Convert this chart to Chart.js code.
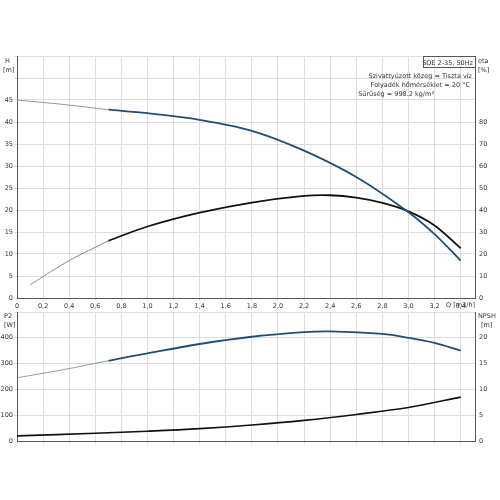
<!DOCTYPE html>
<html><head><meta charset="utf-8">
<script src="https://cdn.jsdelivr.net/npm/chart.js@4/dist/chart.umd.min.js"></script>
<style>body{margin:0;background:#fff}canvas{position:absolute;left:0}</style>
</head><body>
<canvas id="c1" style="top:40px;width:500px;height:275px" width="500" height="275"></canvas>
<canvas id="c2" style="top:300px;width:500px;height:150px" width="500" height="150"></canvas>
<script>
const qHeadThin=[0,0.35,0.7];
const headThin=[45,44,42.8];
const qHead=[0.7,1.0,1.4,1.8,2.2,2.6,3.0,3.2,3.4];
const head=[42.8,42,40.5,38,33.5,27.5,19.5,14.5,8.5];
const qEtaThin=[0.1,0.4,0.7];
const etaThin=[6,17,26];
const qEta=[0.7,1.0,1.4,1.8,2.2,2.4,2.6,2.8,3.0,3.2,3.4];
const eta=[26,32.5,38.8,43.4,46.4,46.7,45.6,43.2,39.4,33,22.6];
const qP2Thin=[0,0.35,0.7];
const p2Thin=[245,276,311];
const qP2=[0.7,1.0,1.4,1.8,2.2,2.4,2.8,3.0,3.2,3.4];
const p2=[311,340,376,404,422,425,415,400,380,350];
const qNpsh=[0,0.6,1.0,1.4,1.8,2.2,2.6,3.0,3.4];
const npsh=[1,1.5,1.9,2.4,3.1,4,5.15,6.5,8.5];
const legendLines=["Szivattyúzott közeg = Tiszta víz","Folyadék hőmérséklet = 20 °C","Sűrűség = 998.2 kg/m³"];

const pts=(xs,ys)=>xs.map((x,i)=>({x,y:ys[i]}));
const font={family:'DejaVu Sans',size:6.5};
const ds=(d,axis,color,w)=>({data:d,yAxisID:axis,borderColor:color,borderWidth:w,pointRadius:0,tension:0.35,fill:false});
const xScale=(labels)=>({type:'linear',min:0,max:3.51,border:{color:'#555'},grid:{color:'#ddd',tickLength:3},
  afterBuildTicks:s=>{s.ticks=[];for(let i=0;i<=17;i++)s.ticks.push({value:+(i*0.2).toFixed(1)});},
  ticks:{display:labels,font,color:'#333',padding:1,maxRotation:0,autoSkip:false,callback:v=>v===0?'0':v.toFixed(1).replace('.',',')},
  afterFit:s=>{s.height=labels?17:9;}});
const yScale=(pos,max,step,showMax,w,grid)=>({position:pos,min:0,max:max,border:{color:'#555'},
  grid:{display:grid,color:'#ddd',tickLength:3,drawTicks:true},
  afterBuildTicks:s=>{s.ticks=[];for(let v=0;v<=max+1e-9;v+=step)s.ticks.push({value:v});},
  ticks:{font,color:'#333',padding:1,callback:v=>v<=showMax?v:''},afterFit:s=>{s.width=w;}});
const texts=(items)=>({id:'t',afterDraw(c){const x=c.ctx;x.save();x.font='6.5px DejaVu Sans';x.fillStyle='#333';
  items.forEach(t=>{x.textAlign=t.a||'left';x.fillText(t.s,t.x,t.y);});
  if(c.canvas.id==='c1'){x.strokeStyle='#555';x.lineWidth=1;x.strokeRect(423.5,16.5,52,11);}
  x.restore();}});

new Chart(document.getElementById('c1'),{type:'line',
 data:{datasets:[ds(pts(qHeadThin,headThin),'y','#8a9aab',1),ds(pts(qHead,head),'y','#1f4e79',1.8),
  ds(pts(qEtaThin,etaThin),'y2','#888',1),ds(pts(qEta,eta),'y2','#111',1.8)]},
 options:{responsive:false,animation:false,layout:{padding:{top:16,bottom:0,left:0,right:0}},
  plugins:{legend:{display:false},tooltip:{enabled:false}},
  scales:{x:xScale(true),y:yScale('left',55,5,45,17,true),y2:yScale('right',110,10,80,25,false)}},
 plugins:[texts([{s:'H',x:5,y:23},{s:'[m]',x:3,y:32},{s:'eta',x:478,y:23},{s:'[%]',x:478,y:32},
  {s:'SQE 2-35, 50Hz',x:473,y:25,a:'right'},
  {s:legendLines[0],x:472,y:38,a:'right'},{s:legendLines[1],x:470,y:47,a:'right'},{s:legendLines[2],x:434,y:56,a:'right'},
  {s:'Q [m3/h]',x:446,y:267}])]});

new Chart(document.getElementById('c2'),{type:'line',
 data:{datasets:[ds(pts(qP2Thin,p2Thin),'y','#8a9aab',1),ds(pts(qP2,p2),'y','#1f4e79',1.8),
  ds(pts(qNpsh,npsh),'y2','#111',1.6)]},
 options:{responsive:false,animation:false,layout:{padding:{top:12,bottom:0,left:0,right:0}},
  plugins:{legend:{display:false},tooltip:{enabled:false}},
  scales:{x:xScale(false),y:yScale('left',500,100,400,17,true),y2:yScale('right',25,5,20,25,false)}},
 plugins:[texts([{s:'P2',x:4,y:18},{s:'[W]',x:4,y:27},{s:'NPSH',x:478,y:18},{s:'[m]',x:481,y:27}])]});
</script></body></html>
